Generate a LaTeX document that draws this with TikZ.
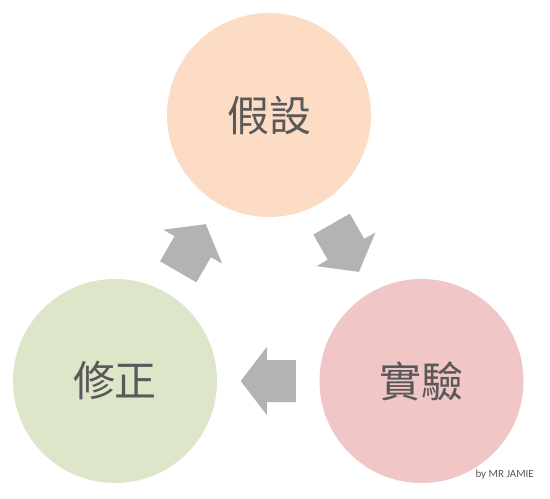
\documentclass[tikz,border=0pt]{standalone}
\usepackage{fontspec}
\newfontfamily\cjkfont{Noto Sans CJK TC}
\newfontfamily\labfont{Carlito}
\definecolor{peach}{HTML}{FCDCC5}
\definecolor{sage}{HTML}{DEE6C9}
\definecolor{rose}{HTML}{F0C6C6}
\definecolor{arrowgray}{HTML}{B3B3B3}
\definecolor{txtgray}{HTML}{595959}
\begin{document}
\begin{tikzpicture}[x=1pt,y=-1pt,
  stage/.style={circle, minimum size=204pt, inner sep=0pt, outer sep=0pt,
    font=\cjkfont\fontsize{42}{42}\selectfont, text=txtgray},
  pics/blockarrow/.style={code={%
    \fill[arrowgray] (-27.5,-21) -- (1.5,-21) -- (1.5,-34) -- (27.5,0)
      -- (1.5,34) -- (1.5,21) -- (-27.5,21) -- cycle;}}]
\useasboundingbox (0,0) rectangle (550,499);
\fill[white] (0,0) rectangle (550,499);
\node[stage, fill=peach] (hyp) at (269,115) {假設};
\node[stage, fill=sage] (fix) at (115,381) {修正};
\node[stage, fill=rose] (exp) at (421.5,381) {實驗};
\path (hyp.center) -- pic[sloped, allow upside down, pos=0.5]{blockarrow} (exp.center);
\path (exp.center) -- pic[sloped, allow upside down, pos=0.5]{blockarrow} (fix.center);
\path (fix.center) -- pic[sloped, allow upside down, pos=0.5]{blockarrow} (hyp.center);
\node[anchor=base east, inner sep=0pt, font=\labfont\fontsize{11}{11}\selectfont, text=txtgray] (sig) at (534,477) {by MR JAMIE};
\end{tikzpicture}
\end{document}
